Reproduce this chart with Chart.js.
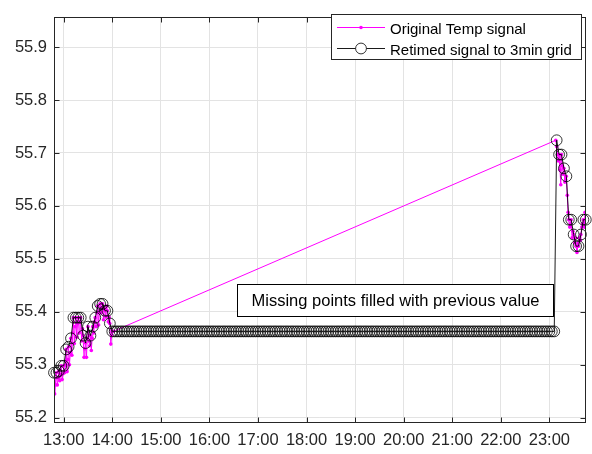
<!DOCTYPE html>
<html>
<head>
<meta charset="utf-8">
<script src="https://cdn.jsdelivr.net/npm/chart.js@4.4.1/dist/chart.umd.min.js"></script>
<style>
  html, body { margin: 0; padding: 0; background: #ffffff; }
  canvas { display: block; }
</style>
</head>
<body>
<canvas id="chart" width="592" height="454"></canvas>
<script>
// Raw temperature samples (irregular timestamps)
const origTimes = [
  '12:48:00','12:48:48','12:49:42','12:50:48','12:52:06','12:53:18','12:53:54','12:55:06','12:56:18','12:56:54',
  '12:58:06','12:59:12','12:59:54','13:01:06','13:02:06','13:02:54','13:04:06','13:05:06','13:05:54','13:07:06',
  '13:08:06','13:08:54','13:10:06','13:11:06','13:11:54','13:13:06','13:14:06','13:14:54','13:16:06','13:17:06',
  '13:17:54','13:19:06','13:20:06','13:20:54','13:22:06','13:23:06','13:23:54','13:25:06','13:26:06','13:26:54',
  '13:28:06','13:29:06','13:29:54','13:31:06','13:32:06','13:32:54','13:34:06','13:35:06','13:35:54','13:37:06',
  '13:38:06','13:38:54','13:40:06','13:41:06','13:41:54','13:43:06','13:44:06','13:44:54','13:46:06','13:47:06',
  '13:47:54','13:49:06','13:50:06','13:50:54','13:52:06','13:53:06','13:53:54','13:55:06','13:56:06','13:56:54',
  '13:58:12','13:59:18','13:59:54','14:01:06',
  '23:07:54','23:09:06','23:10:06','23:11:06','23:11:54','23:13:06','23:14:06','23:14:54','23:16:06','23:17:06',
  '23:17:54','23:19:06','23:20:06','23:20:54','23:22:06','23:23:06','23:23:54','23:25:06','23:26:06','23:26:54',
  '23:28:06','23:29:06','23:29:54','23:31:06','23:32:06','23:32:54','23:34:06','23:35:06','23:35:54','23:37:06',
  '23:38:06','23:38:54','23:40:06','23:41:06','23:41:54','23:43:06','23:44:06','23:44:54'
];
const origTemps = [
  55.285, 55.245, 55.262, 55.285, 55.262, 55.275, 55.288, 55.270, 55.281, 55.298,
  55.272, 55.283, 55.298, 55.285, 55.300, 55.329, 55.287, 55.310, 55.334, 55.300,
  55.322, 55.350, 55.318, 55.360, 55.389, 55.340, 55.372, 55.389, 55.352, 55.378,
  55.389, 55.360, 55.381, 55.389, 55.345, 55.368, 55.355, 55.314, 55.330, 55.341,
  55.314, 55.350, 55.372, 55.345, 55.336, 55.355, 55.327, 55.350, 55.372, 55.360,
  55.381, 55.389, 55.372, 55.398, 55.411, 55.375, 55.400, 55.415, 55.398, 55.408,
  55.415, 55.385, 55.406, 55.402, 55.390, 55.411, 55.402, 55.381, 55.390, 55.378,
  55.339, 55.356, 55.363, 55.363,
  55.724, 55.712, 55.697, 55.685, 55.697, 55.668, 55.640, 55.697, 55.676, 55.660,
  55.671, 55.645, 55.650, 55.656, 55.620, 55.588, 55.574, 55.560, 55.566, 55.574,
  55.540, 55.552, 55.546, 55.530, 55.540, 55.524, 55.512, 55.530, 55.524, 55.540,
  55.535, 55.546, 55.560, 55.566, 55.574, 55.560, 55.588, 55.574
];

// Regular 3-minute grid (start time and step), one value per grid point
const gridStart = '12:48:00';
const gridStepMin = 3;
const retimedHead = [
  55.285, 55.285, 55.288, 55.298, 55.298, 55.329, 55.334, 55.350, 55.389, 55.389,
  55.389, 55.389, 55.355, 55.341, 55.372, 55.355, 55.372, 55.389, 55.411, 55.415,
  55.415, 55.402, 55.402, 55.378, 55.363
];
// 14:03 .. 23:06, no new samples: value held from 14:01
const retimedGap = [
  55.363, 55.363, 55.363, 55.363, 55.363, 55.363, 55.363, 55.363, 55.363, 55.363,
  55.363, 55.363, 55.363, 55.363, 55.363, 55.363, 55.363, 55.363, 55.363, 55.363,
  55.363, 55.363, 55.363, 55.363, 55.363, 55.363, 55.363, 55.363, 55.363, 55.363,
  55.363, 55.363, 55.363, 55.363, 55.363, 55.363, 55.363, 55.363, 55.363, 55.363,
  55.363, 55.363, 55.363, 55.363, 55.363, 55.363, 55.363, 55.363, 55.363, 55.363,
  55.363, 55.363, 55.363, 55.363, 55.363, 55.363, 55.363, 55.363, 55.363, 55.363,
  55.363, 55.363, 55.363, 55.363, 55.363, 55.363, 55.363, 55.363, 55.363, 55.363,
  55.363, 55.363, 55.363, 55.363, 55.363, 55.363, 55.363, 55.363, 55.363, 55.363,
  55.363, 55.363, 55.363, 55.363, 55.363, 55.363, 55.363, 55.363, 55.363, 55.363,
  55.363, 55.363, 55.363, 55.363, 55.363, 55.363, 55.363, 55.363, 55.363, 55.363,
  55.363, 55.363, 55.363, 55.363, 55.363, 55.363, 55.363, 55.363, 55.363, 55.363,
  55.363, 55.363, 55.363, 55.363, 55.363, 55.363, 55.363, 55.363, 55.363, 55.363,
  55.363, 55.363, 55.363, 55.363, 55.363, 55.363, 55.363, 55.363, 55.363, 55.363,
  55.363, 55.363, 55.363, 55.363, 55.363, 55.363, 55.363, 55.363, 55.363, 55.363,
  55.363, 55.363, 55.363, 55.363, 55.363, 55.363, 55.363, 55.363, 55.363, 55.363,
  55.363, 55.363, 55.363, 55.363, 55.363, 55.363, 55.363, 55.363, 55.363, 55.363,
  55.363, 55.363, 55.363, 55.363, 55.363, 55.363, 55.363, 55.363, 55.363, 55.363,
  55.363, 55.363, 55.363, 55.363, 55.363, 55.363, 55.363, 55.363, 55.363, 55.363,
  55.363, 55.363
];
const retimedTail = [
  55.724, 55.697, 55.697, 55.671, 55.656, 55.574, 55.574, 55.546, 55.524, 55.524,
  55.546, 55.574, 55.574
];
const retimedTemps = retimedHead.concat(retimedGap, retimedTail);

// Axis ticks and limits
const xTickLabels = ['13:00','14:00','15:00','16:00','17:00','18:00','19:00','20:00','21:00','22:00','23:00'];
const yTickValues = [55.2, 55.3, 55.4, 55.5, 55.6, 55.7, 55.8, 55.9];
const xLimits = ['12:48:00', '23:45:00'];
const yLimits = [55.19, 55.957];

const seriesNames = ['Original Temp signal', 'Retimed signal to 3min grid'];
const noteText = 'Missing points filled with previous value';

const FONT = '"Liberation Sans", Arial, Helvetica, sans-serif';
const INK = '#262626';
const AXIS_FONT_PX = 16.5;
const LEGEND_FONT_PX = 15;

function toHours(s) {
  const p = s.split(':').map(Number);
  return p[0] + p[1] / 60 + (p[2] || 0) / 3600;
}

const origData = origTimes.map((t, i) => ({ x: toHours(t), y: origTemps[i] }));
const retimedData = retimedTemps.map((v, i) => ({ x: toHours(gridStart) + i * gridStepMin / 60, y: v }));

// Box around the axes, inward tick marks, legend and text box
const decorations = {
  id: 'decorations',
  afterDatasetsDraw(chart) {
    const ctx = chart.ctx;
    const a = chart.chartArea;
    const xs = chart.scales.x, ys = chart.scales.y;
    const L = Math.round(a.left) + 0.5, R = Math.round(a.right) - 0.5;
    const T = Math.round(a.top) + 0.5, B = Math.round(a.bottom) - 0.5;
    const tick = 5;
    ctx.save();
    ctx.strokeStyle = INK;
    ctx.lineWidth = 1;
    ctx.beginPath();
    xs.ticks.forEach(t => {
      const px = Math.round(xs.getPixelForValue(t.value)) + 0.5;
      ctx.moveTo(px, B); ctx.lineTo(px, B - tick);
      ctx.moveTo(px, T); ctx.lineTo(px, T + tick);
    });
    ys.ticks.forEach(t => {
      const py = Math.round(ys.getPixelForValue(t.value)) + 0.5;
      ctx.moveTo(L, py); ctx.lineTo(L + tick, py);
      ctx.moveTo(R, py); ctx.lineTo(R - tick, py);
    });
    ctx.stroke();
    ctx.strokeRect(L, T, R - L, B - T);

    // text box
    ctx.font = AXIS_FONT_PX + 'px ' + FONT;
    const nb = { x: 237.5, y: 284.5, w: 316, h: 32 };
    ctx.fillStyle = '#ffffff';
    ctx.fillRect(nb.x, nb.y, nb.w, nb.h);
    ctx.strokeStyle = '#000000';
    ctx.strokeRect(nb.x, nb.y, nb.w, nb.h);
    ctx.fillStyle = '#000000';
    ctx.textAlign = 'center';
    ctx.textBaseline = 'alphabetic';
    ctx.fillText(noteText, nb.x + nb.w / 2, nb.y + 21.5);

    // legend
    ctx.font = LEGEND_FONT_PX + 'px ' + FONT;
    const lb = { x: 331.5, y: 14.5, w: 250, h: 45 };
    ctx.fillStyle = '#ffffff';
    ctx.fillRect(lb.x, lb.y, lb.w, lb.h);
    ctx.strokeStyle = INK;
    ctx.strokeRect(lb.x, lb.y, lb.w, lb.h);
    const order = [1, 0];
    const rowY = [27.5, 48.5];
    order.forEach((di, r) => {
      const ds = chart.data.datasets[di];
      const y = rowY[r];
      ctx.strokeStyle = ds.borderColor;
      ctx.lineWidth = ds.borderWidth;
      ctx.beginPath();
      ctx.moveTo(337, y); ctx.lineTo(385, y);
      ctx.stroke();
      ctx.beginPath();
      ctx.arc(361, y, ds.pointRadius, 0, Math.PI * 2);
      if (ds.pointBackgroundColor && ds.pointBackgroundColor !== 'transparent') {
        ctx.fillStyle = ds.pointBackgroundColor;
        ctx.fill();
      } else {
        ctx.fillStyle = '#ffffff';
        ctx.fill();
        ctx.strokeStyle = ds.pointBorderColor;
        ctx.lineWidth = ds.pointBorderWidth;
        ctx.stroke();
      }
      ctx.fillStyle = '#000000';
      ctx.textAlign = 'left';
      ctx.fillText(ds.label, 390, y + 6);
    });
    ctx.restore();
  }
};

new Chart(document.getElementById('chart'), {
  type: 'line',
  data: {
    datasets: [
      {
        label: seriesNames[1],
        data: retimedData,
        borderColor: '#000000',
        borderWidth: 0.9,
        pointRadius: 5.4,
        pointStyle: 'circle',
        pointBackgroundColor: 'transparent',
        pointBorderColor: '#000000',
        pointBorderWidth: 0.8,
        tension: 0,
        clip: false,
        order: 0
      },
      {
        label: seriesNames[0],
        data: origData,
        borderColor: '#ff00ff',
        borderWidth: 1,
        pointRadius: 1.8,
        pointBackgroundColor: '#ff00ff',
        pointBorderColor: '#ff00ff',
        pointBorderWidth: 0,
        tension: 0,
        order: 1
      }
    ]
  },
  options: {
    responsive: false,
    animation: false,
    devicePixelRatio: 1,
    events: [],
    layout: { padding: { top: 3, right: 4, left: 0, bottom: 0 } },
    plugins: { legend: { display: false }, tooltip: { enabled: false } },
    scales: {
      x: {
        type: 'linear',
        min: toHours(xLimits[0]),
        max: toHours(xLimits[1]),
        afterBuildTicks: s => { s.ticks = xTickLabels.map(l => ({ value: toHours(l) })); },
        afterFit: s => { s.height = 31; },
        grid: { color: '#e3e3e3', lineWidth: 1, drawTicks: false },
        border: { display: false },
        ticks: {
          autoSkip: false, maxRotation: 0, padding: 8,
          color: INK, font: { family: FONT, size: AXIS_FONT_PX },
          callback: (v, i) => xTickLabels[i]
        }
      },
      y: {
        type: 'linear',
        min: yLimits[0],
        max: yLimits[1],
        afterBuildTicks: s => { s.ticks = yTickValues.map(v => ({ value: v })); },
        afterFit: s => { s.width = 54; },
        grid: { color: '#e3e3e3', lineWidth: 1, drawTicks: false },
        border: { display: false },
        ticks: {
          autoSkip: false, padding: 7,
          color: INK, font: { family: FONT, size: AXIS_FONT_PX },
          callback: v => v.toFixed(1)
        }
      }
    }
  },
  plugins: [decorations]
});
</script>
</body>
</html>
